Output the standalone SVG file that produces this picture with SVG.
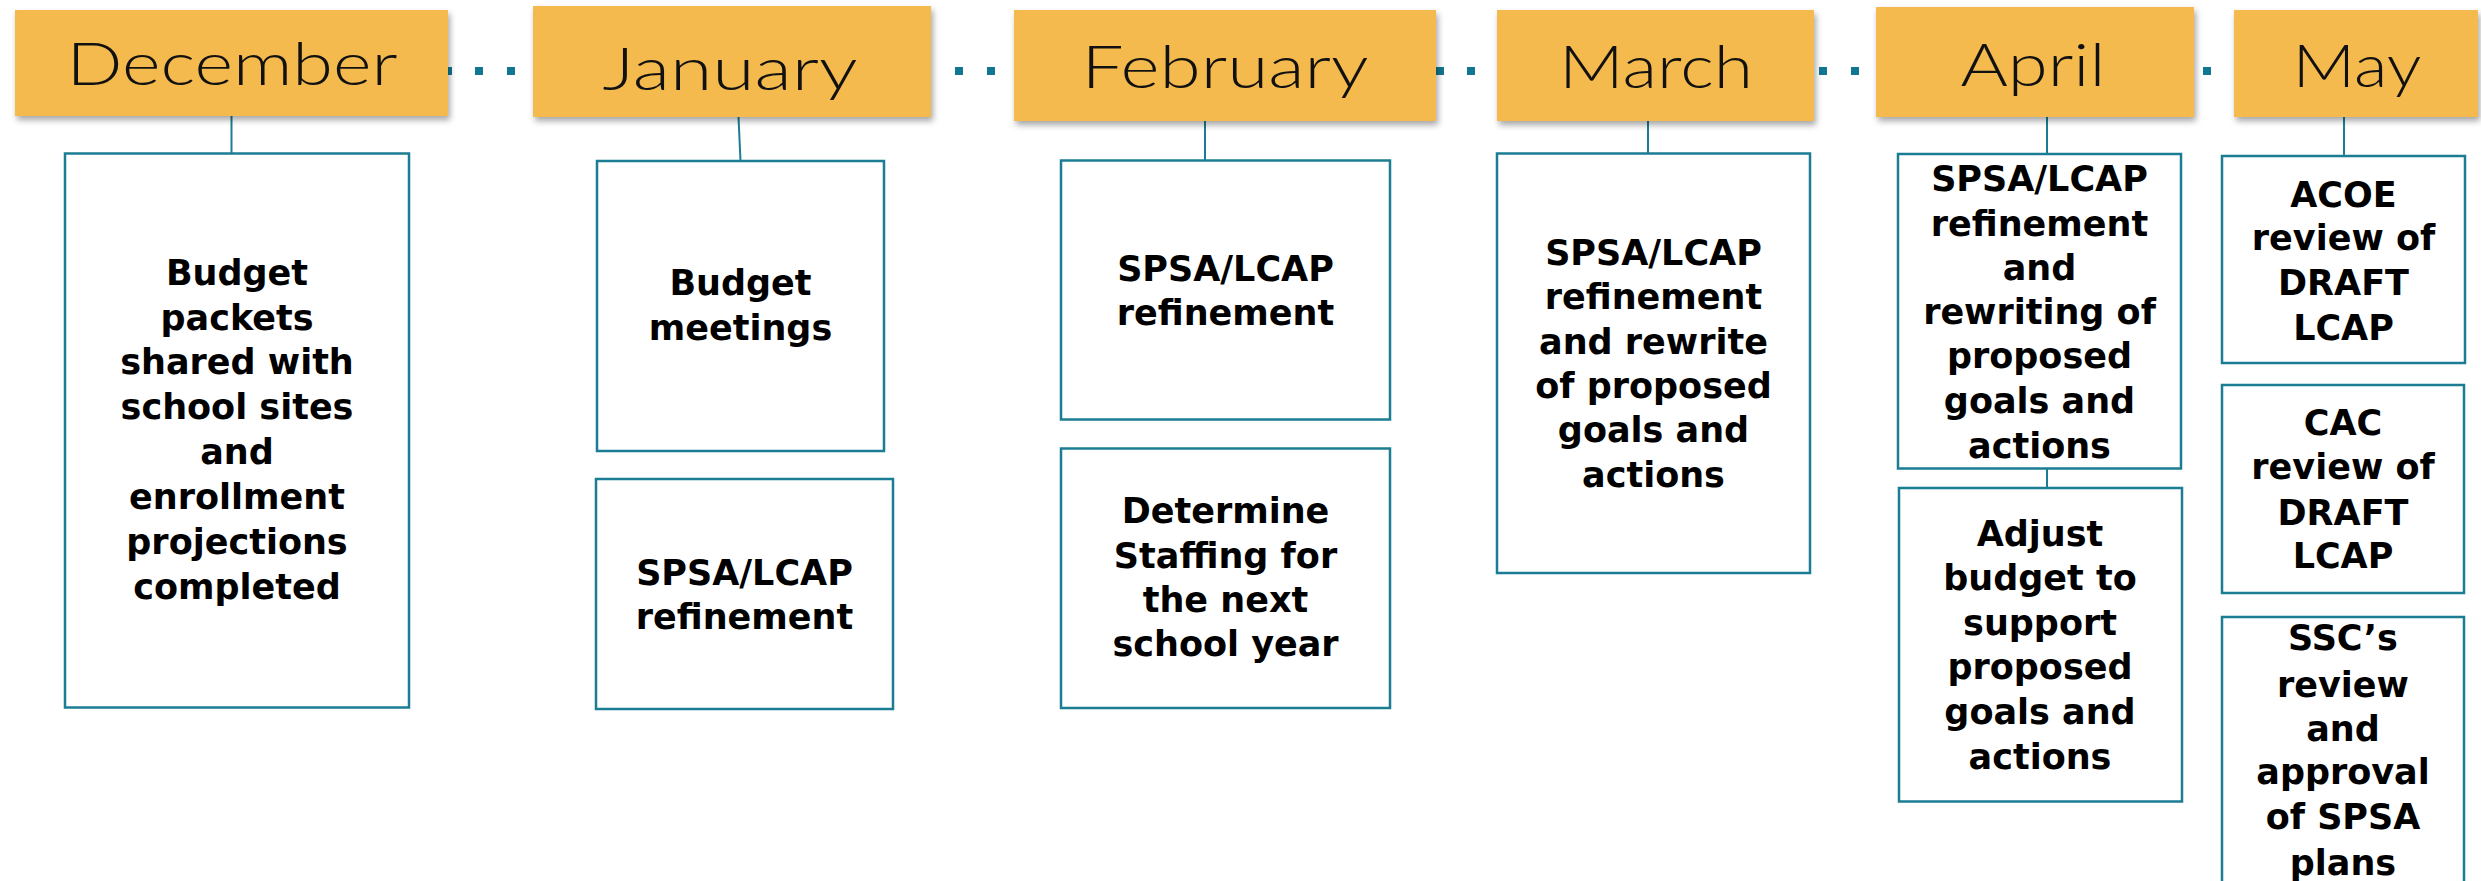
<svg xmlns="http://www.w3.org/2000/svg" width="2481" height="881" viewBox="0 0 2481 881">
<defs>
<filter id="sh" x="-10%" y="-20%" width="125%" height="150%">
<feDropShadow dx="2" dy="4" stdDeviation="3" flood-color="#000" flood-opacity="0.35"/>
</filter>
<style>
.month{fill:#F4BA4D;filter:url(#sh)}
.mlabel{font-family:"Lato","Open Sans","Liberation Sans",sans-serif;font-weight:300;font-size:60px;fill:#111;text-anchor:middle}
.box{fill:#fff;stroke:#1B7D93;stroke-width:2.5}
.body{font-family:"DejaVu Sans","Liberation Sans",sans-serif;font-weight:bold;font-size:35px;fill:#000;text-anchor:middle}
.dot{fill:#117790}
.conn{stroke:#1B7D93;stroke-width:2;fill:none}
</style>
</defs>
<rect width="2481" height="881" fill="#fff"/>
<g id="timeline-dots">
<rect class="dot" x="444" y="67" width="8" height="8"/>
<rect class="dot" x="475" y="67" width="8" height="8"/>
<rect class="dot" x="507" y="67" width="8" height="8"/>
<rect class="dot" x="955" y="67" width="8" height="8"/>
<rect class="dot" x="987" y="67" width="8" height="8"/>
<rect class="dot" x="1436" y="67" width="8" height="8"/>
<rect class="dot" x="1467" y="67" width="8" height="8"/>
<rect class="dot" x="1819" y="67" width="8" height="8"/>
<rect class="dot" x="1851" y="67" width="8" height="8"/>
<rect class="dot" x="2203" y="67" width="8" height="8"/>
</g>
<g id="connectors">
<line class="conn" x1="231.5" y1="116" x2="231.5" y2="153.5"/>
<line class="conn" x1="738.5" y1="117" x2="740.5" y2="161"/>
<line class="conn" x1="1205" y1="121" x2="1205" y2="160.5"/>
<line class="conn" x1="1648" y1="121" x2="1648" y2="153.5"/>
<line class="conn" x1="2047" y1="117" x2="2047" y2="154"/>
<line class="conn" x1="2047" y1="468.5" x2="2047" y2="488"/>
<line class="conn" x1="2344" y1="117" x2="2344" y2="156"/>
</g>
<g id="december">
<rect class="month" x="15" y="10" width="433" height="106"/>
<text class="mlabel" x="232" y="85" textLength="331" lengthAdjust="spacingAndGlyphs">December</text>
</g>
<g id="january">
<rect class="month" x="533" y="6" width="398" height="111"/>
<text class="mlabel" x="730" y="90" textLength="255" lengthAdjust="spacingAndGlyphs">January</text>
</g>
<g id="february">
<rect class="month" x="1014" y="10" width="422" height="111"/>
<text class="mlabel" x="1225" y="88" textLength="287" lengthAdjust="spacingAndGlyphs">February</text>
</g>
<g id="march">
<rect class="month" x="1497" y="10" width="317" height="111"/>
<text class="mlabel" x="1656" y="88" textLength="194" lengthAdjust="spacingAndGlyphs">March</text>
</g>
<g id="april">
<rect class="month" x="1876" y="7" width="318" height="110"/>
<text class="mlabel" x="2033" y="86" textLength="145" lengthAdjust="spacingAndGlyphs">April</text>
</g>
<g id="may">
<rect class="month" x="2234" y="10" width="244" height="107"/>
<text class="mlabel" x="2357" y="87" textLength="129" lengthAdjust="spacingAndGlyphs">May</text>
</g>
<g id="dec-budget-packets">
<rect class="box" x="65" y="153.5" width="344" height="554"/>
<text class="body"><tspan x="237" y="285">Budget</tspan><tspan x="237" y="330">packets</tspan><tspan x="237" y="374">shared with</tspan><tspan x="237" y="419">school sites</tspan><tspan x="237" y="464">and</tspan><tspan x="237" y="509">enrollment</tspan><tspan x="237" y="554">projections</tspan><tspan x="237" y="599">completed</tspan></text>
</g>
<g id="jan-budget-meetings">
<rect class="box" x="597" y="161" width="287" height="290"/>
<text class="body"><tspan x="740.5" y="295">Budget</tspan><tspan x="740.5" y="340">meetings</tspan></text>
</g>
<g id="jan-spsa-lcap">
<rect class="box" x="596" y="479" width="297" height="230"/>
<text class="body"><tspan x="744.5" y="585">SPSA/LCAP</tspan><tspan x="744.5" y="629">refinement</tspan></text>
</g>
<g id="feb-spsa-lcap">
<rect class="box" x="1061" y="160.5" width="329" height="259"/>
<text class="body"><tspan x="1225.5" y="281">SPSA/LCAP</tspan><tspan x="1225.5" y="325">refinement</tspan></text>
</g>
<g id="feb-staffing">
<rect class="box" x="1061" y="448.5" width="329" height="259.5"/>
<text class="body"><tspan x="1225.5" y="523">Determine</tspan><tspan x="1225.5" y="567.5">Staffing for</tspan><tspan x="1225.5" y="612">the next</tspan><tspan x="1225.5" y="656">school year</tspan></text>
</g>
<g id="mar-spsa-lcap">
<rect class="box" x="1497" y="153.5" width="313" height="419.5"/>
<text class="body"><tspan x="1653.5" y="265">SPSA/LCAP</tspan><tspan x="1653.5" y="309">refinement</tspan><tspan x="1653.5" y="354">and rewrite</tspan><tspan x="1653.5" y="398">of proposed</tspan><tspan x="1653.5" y="442">goals and</tspan><tspan x="1653.5" y="487">actions</tspan></text>
</g>
<g id="apr-spsa-lcap">
<rect class="box" x="1898" y="154" width="283" height="314.5"/>
<text class="body"><tspan x="2039.5" y="191">SPSA/LCAP</tspan><tspan x="2039.5" y="235.5">refinement</tspan><tspan x="2039.5" y="279.5">and</tspan><tspan x="2039.5" y="324">rewriting of</tspan><tspan x="2039.5" y="368">proposed</tspan><tspan x="2039.5" y="412.5">goals and</tspan><tspan x="2039.5" y="458">actions</tspan></text>
</g>
<g id="apr-adjust-budget">
<rect class="box" x="1899" y="488" width="283" height="313.5"/>
<text class="body"><tspan x="2040" y="545.5">Adjust</tspan><tspan x="2040" y="590">budget to</tspan><tspan x="2040" y="635">support</tspan><tspan x="2040" y="679">proposed</tspan><tspan x="2040" y="724">goals and</tspan><tspan x="2040" y="769">actions</tspan></text>
</g>
<g id="may-acoe-review">
<rect class="box" x="2222" y="156" width="243" height="207"/>
<text class="body"><tspan x="2343.5" y="206.5">ACOE</tspan><tspan x="2343.5" y="250">review of</tspan><tspan x="2343.5" y="295">DRAFT</tspan><tspan x="2343.5" y="340">LCAP</tspan></text>
</g>
<g id="may-cac-review">
<rect class="box" x="2222" y="385" width="242" height="208"/>
<text class="body"><tspan x="2343" y="435">CAC</tspan><tspan x="2343" y="479">review of</tspan><tspan x="2343" y="525">DRAFT</tspan><tspan x="2343" y="568">LCAP</tspan></text>
</g>
<g id="may-ssc-review">
<rect class="box" x="2222" y="617" width="242" height="300"/>
<text class="body"><tspan x="2343" y="649.5">SSC’s</tspan><tspan x="2343" y="696.5">review</tspan><tspan x="2343" y="740.5">and</tspan><tspan x="2343" y="784">approval</tspan><tspan x="2343" y="829">of SPSA</tspan><tspan x="2343" y="874.5">plans</tspan></text>
</g>
</svg>
